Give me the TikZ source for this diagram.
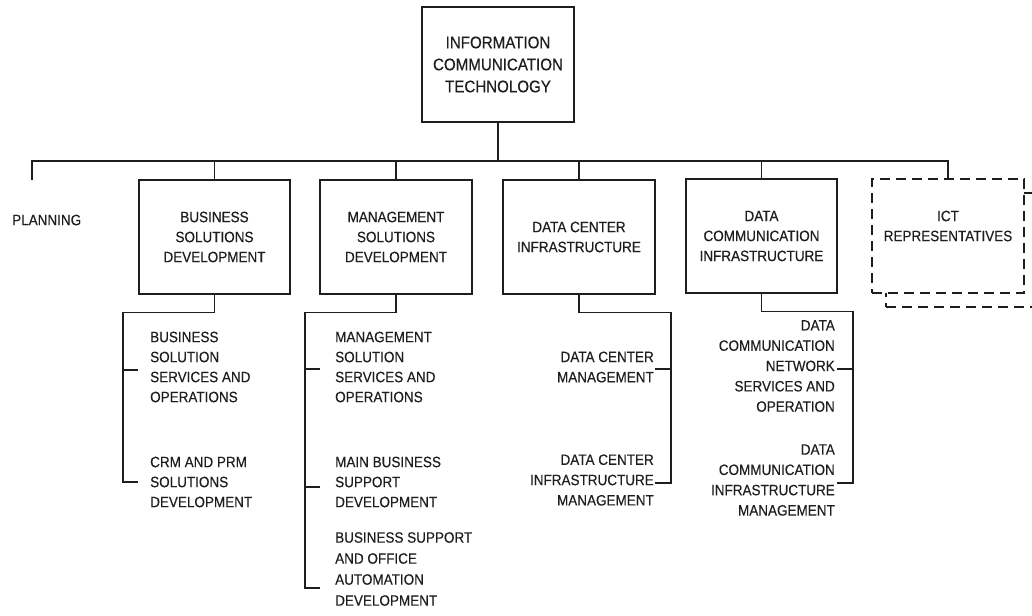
\documentclass[tikz,border=0pt]{standalone}
\usepackage{fontspec}
\setmainfont{Liberation Sans}[FakeStretch=0.9,FakeBold=0.35]
\definecolor{ink}{HTML}{1E1E1E}
\begin{document}
\begin{tikzpicture}[x=1pt,y=-1pt,
  line/.style={draw=ink, line width=1.4pt},
  unitbox/.style={draw=ink, line width=1.4pt, fill=white, minimum width=152pt,
    minimum height=114pt, align=center, text=ink, inner sep=0pt,
    font=\fontsize{15}{20}\selectfont},
  dashbox/.style={unitbox, dash pattern=on 10pt off 6pt},
  subleft/.style={align=left, text=ink, inner sep=0pt, anchor=west,
    font=\fontsize{15}{20}\selectfont},
  subright/.style={align=right, text=ink, inner sep=0pt, anchor=east,
    font=\fontsize{15}{20.3}\selectfont},
]
\useasboundingbox (0,0) rectangle (1032,615);

% head of the organisation
\node[unitbox, font=\fontsize{16.8}{22}\selectfont, minimum height=115pt]
  (ict) at (498,64.5) {INFORMATION\\COMMUNICATION\\TECHNOLOGY};

% departments
\node[subleft, font=\fontsize{15}{20}\selectfont] (plan) at (12,220) {PLANNING};
\node[unitbox, minimum width=151pt] (bsd) at (214.5,237) {BUSINESS\\SOLUTIONS\\DEVELOPMENT};
\node[unitbox] (msd) at (396,237) {MANAGEMENT\\SOLUTIONS\\DEVELOPMENT};
\node[unitbox] (dci) at (579,237) {DATA CENTER\\INFRASTRUCTURE};
\node[unitbox, minimum width=151pt] (dcom) at (761.5,236) {DATA\\COMMUNICATION\\INFRASTRUCTURE};

% stacked representatives box
\begin{scope}
  \clip (0,0) rectangle (1032,615);
  \node[dashbox] (repback) at (962,250) {};
\end{scope}
\node[dashbox] (rep) at (948,236) {};
\node[align=center, text=ink, inner sep=0pt, font=\fontsize{15}{20}\selectfont]
  (replabel) at (948,226) {ICT\\REPRESENTATIVES};

% sub-units
\node[subleft] (a1) at (150,367) {BUSINESS\\SOLUTION\\SERVICES AND\\OPERATIONS};
\node[subleft] (a2) at (150,482) {CRM AND PRM\\SOLUTIONS\\DEVELOPMENT};
\node[subleft] (b1) at (335,367) {MANAGEMENT\\SOLUTION\\SERVICES AND\\OPERATIONS};
\node[subleft] (b2) at (335,482) {MAIN BUSINESS\\SUPPORT\\DEVELOPMENT};
\node[subleft, font=\fontsize{15}{21}\selectfont] (b3) at (335,569)
  {BUSINESS SUPPORT\\AND OFFICE\\AUTOMATION\\DEVELOPMENT};
\node[subright] (c1) at (654,367) {DATA CENTER\\MANAGEMENT};
\node[subright] (c2) at (654,480) {DATA CENTER\\INFRASTRUCTURE\\MANAGEMENT};
\node[subright] (d1) at (835,366) {DATA\\COMMUNICATION\\NETWORK\\SERVICES AND\\OPERATION};
\node[subright] (d2) at (835,480) {DATA\\COMMUNICATION\\INFRASTRUCTURE\\MANAGEMENT};

% main bus
\coordinate (plstub) at (32,180);
\coordinate (busR) at (948,161);
\draw[line] (ict.south) -- (ict.south |- busR);
\draw[line] (plstub) |- (busR) -- (rep.north);
\foreach \u in {bsd,msd,dci,dcom}
  \draw[line] (\u.north) -- (\u.north |- busR);

% business solutions development branch
\draw[line] (bsd.south) -- ++(0,18) -| ([xshift=-27pt]a2.west) -- ([xshift=-12pt]a2.west);
\draw[line] ([xshift=-27pt,yshift=-3pt]a1.west) -- ([xshift=-12pt,yshift=-3pt]a1.west);

% management solutions development branch
\draw[line] (msd.south) -- ++(0,18) -| ([xshift=-30pt,yshift=-19pt]b3.west) -- ([xshift=-15pt,yshift=-19pt]b3.west);
\draw[line] ([xshift=-30pt,yshift=-2pt]b1.west) -- ([xshift=-15pt,yshift=-2pt]b1.west);
\draw[line] ([xshift=-30pt,yshift=-5pt]b2.west) -- ([xshift=-15pt,yshift=-5pt]b2.west);

% data center infrastructure branch
\draw[line] (dci.south) -- ++(0,18) -| ([xshift=17pt,yshift=-3pt]c2.east) -- ([xshift=1pt,yshift=-3pt]c2.east);
\draw[line] ([xshift=17pt,yshift=-2pt]c1.east) -- ([xshift=1pt,yshift=-2pt]c1.east);

% data communication infrastructure branch
\draw[line] (dcom.south) -- ++(0,18) -| ([xshift=18pt,yshift=-3pt]d2.east) -- ([xshift=2pt,yshift=-3pt]d2.east);
\draw[line] ([xshift=18pt,yshift=-3pt]d1.east) -- ([xshift=2pt,yshift=-3pt]d1.east);
\end{tikzpicture}
\end{document}
